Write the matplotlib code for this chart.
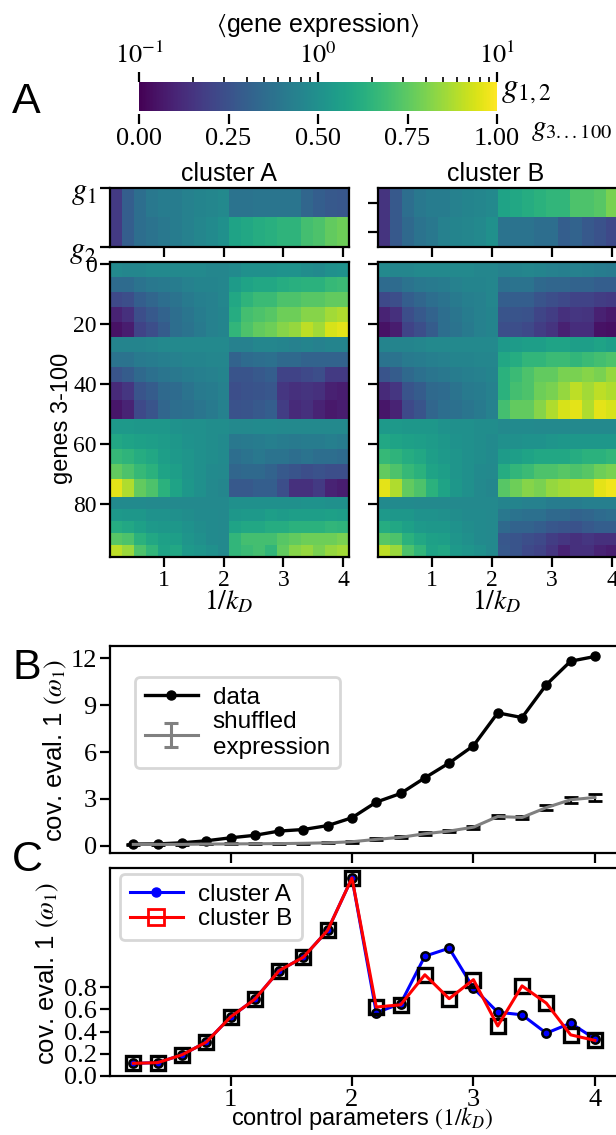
import numpy as np
import matplotlib
matplotlib.use("Agg")
import matplotlib.pyplot as plt
from matplotlib.cm import ScalarMappable
from matplotlib.colors import Normalize
from matplotlib.lines import Line2D

W, H = 616, 1135
plt.rcParams['font.family'] = ['Liberation Sans', 'DejaVu Sans']
plt.rcParams['mathtext.fontset'] = 'stix'
plt.rcParams['axes.linewidth'] = 1.6

kd_inv = [0.2, 0.4, 0.6, 0.8, 1.0, 1.2, 1.4, 1.6, 1.8, 2.0,
          2.2, 2.4, 2.6, 2.8, 3.0, 3.2, 3.4, 3.6, 3.8, 4.0]

# how many genes each row of the tables below stands for
band_rows = [5, 5, 5, 5, 5, 5, 5, 5, 6, 6, 5, 5, 5, 5, 6, 4, 4, 4, 4, 4]

# columns 0.2-2.0, both clusters look the same here
left_bands = [
    [.47, .46, .46, .47, .47, .47, .47, .47, .46, .46],
    [.35, .35, .38, .40, .41, .42, .44, .45, .45, .46],
    [.22, .24, .30, .33, .36, .38, .41, .43, .44, .46],
    [.10, .14, .24, .28, .32, .36, .39, .42, .44, .45],
    [.05, .08, .20, .24, .29, .36, .38, .41, .44, .45],
    [.45, .45, .45, .46, .47, .47, .47, .47, .47, .47],
    [.38, .38, .41, .42, .43, .44, .45, .45, .46, .46],
    [.26, .29, .34, .37, .39, .40, .42, .43, .44, .45],
    [.12, .16, .26, .29, .34, .35, .38, .41, .42, .44],
    [.06, .10, .22, .26, .33, .36, .37, .39, .41, .44],
    [.54, .54, .53, .53, .53, .51, .50, .50, .49, .49],
    [.60, .58, .57, .56, .55, .53, .51, .50, .49, .48],
    [.67, .65, .62, .60, .56, .54, .52, .50, .49, .48],
    [.76, .72, .67, .64, .58, .56, .52, .50, .48, .47],
    [.96, .88, .76, .72, .64, .58, .53, .50, .47, .46],
    [.48, .48, .48, .47, .47, .47, .47, .47, .47, .47],
    [.54, .53, .53, .51, .51, .50, .49, .48, .48, .47],
    [.62, .60, .57, .54, .53, .53, .51, .49, .48, .47],
    [.74, .72, .64, .60, .57, .56, .52, .50, .48, .47],
    [.90, .85, .72, .66, .58, .60, .54, .52, .50, .47],
]

# columns 2.2-4.0
right_bands_a = [
    [.48, .50, .50, .50, .51, .51, .49, .48, .50, .51],
    [.55, .58, .60, .60, .62, .63, .64, .64, .67, .68],
    [.60, .65, .68, .68, .72, .72, .74, .74, .76, .76],
    [.62, .70, .72, .74, .78, .78, .82, .82, .86, .88],
    [.66, .72, .76, .78, .82, .84, .90, .86, .94, .96],
    [.44, .44, .46, .46, .45, .44, .45, .44, .45, .45],
    [.32, .35, .36, .37, .34, .34, .32, .32, .32, .32],
    [.26, .26, .28, .30, .20, .20, .22, .24, .17, .17],
    [.24, .25, .26, .27, .16, .14, .15, .14, .09, .08],
    [.25, .26, .28, .30, .18, .12, .14, .10, .07, .08],
    [.47, .47, .48, .48, .47, .47, .47, .47, .47, .47],
    [.40, .41, .42, .43, .42, .41, .42, .42, .43, .42],
    [.36, .38, .40, .38, .38, .36, .38, .36, .36, .35],
    [.33, .34, .34, .32, .28, .26, .24, .25, .24, .24],
    [.28, .28, .30, .30, .24, .14, .14, .17, .10, .08],
    [.50, .50, .50, .50, .50, .50, .51, .51, .50, .50],
    [.53, .54, .54, .56, .55, .56, .56, .56, .57, .56],
    [.58, .60, .60, .62, .62, .64, .64, .64, .66, .65],
    [.66, .70, .70, .70, .74, .76, .78, .78, .78, .80],
    [.66, .68, .70, .66, .76, .82, .84, .80, .84, .86],
]

right_bands_b = [
    [.44, .45, .46, .45, .44, .43, .44, .43, .42, .41],
    [.37, .38, .38, .34, .33, .33, .32, .32, .30, .30],
    [.30, .30, .30, .26, .24, .22, .20, .20, .18, .17],
    [.26, .26, .25, .21, .18, .14, .16, .15, .09, .07],
    [.24, .24, .22, .18, .15, .09, .13, .13, .05, .04],
    [.54, .55, .56, .56, .58, .58, .56, .56, .58, .56],
    [.60, .62, .66, .66, .68, .68, .66, .68, .70, .72],
    [.64, .68, .72, .76, .76, .80, .80, .82, .80, .84],
    [.64, .70, .72, .78, .80, .84, .90, .86, .90, .88],
    [.70, .76, .76, .82, .88, .94, .96, .88, .96, .94],
    [.47, .48, .48, .47, .47, .47, .47, .47, .47, .47],
    [.50, .50, .51, .51, .52, .53, .53, .53, .53, .53],
    [.55, .56, .58, .60, .60, .60, .62, .64, .64, .66],
    [.62, .66, .68, .72, .72, .74, .72, .74, .78, .80],
    [.74, .78, .82, .80, .84, .86, .88, .88, .96, .98],
    [.45, .45, .44, .44, .42, .42, .42, .43, .43, .43],
    [.40, .38, .37, .37, .34, .34, .32, .33, .35, .36],
    [.34, .32, .32, .30, .27, .26, .25, .28, .30, .30],
    [.27, .26, .24, .22, .18, .16, .14, .16, .14, .14],
    [.28, .26, .22, .20, .16, .10, .14, .14, .10, .08],
]

g12_a = [[.17, .30, .36, .40, .42, .42, .44, .45, .46, .47, .38, .38, .39, .39, .39, .39, .33, .30, .28, .27],
         [.17, .30, .36, .38, .40, .42, .44, .46, .48, .50, .58, .60, .62, .63, .65, .65, .70, .72, .76, .78]]
g12_b = [[.15, .28, .36, .40, .42, .42, .44, .45, .46, .47, .58, .60, .62, .64, .66, .66, .72, .72, .74, .80],
         [.15, .28, .34, .38, .40, .44, .45, .46, .47, .50, .38, .38, .38, .36, .36, .30, .32, .28, .25, .22]]

eval_data = [.12, .13, .2, .33, .52, .68, .95, 1.05, 1.3, 1.8,
             2.8, 3.35, 4.35, 5.3, 6.4, 8.5, 8.2, 10.3, 11.8, 12.1]
eval_shuffled = [.1, .1, .1, .12, .13, .14, .15, .17, .2, .27,
                 .42, .55, .78, .95, 1.2, 1.88, 1.82, 2.45, 2.95, 3.1]
eval_shuffled_err = [.02, .02, .02, .02, .03, .03, .03, .03, .04, .05,
                     .06, .07, .08, .09, .1, .12, .12, .14, .18, .22]

cluster_a = [.114, .12, .19, .304, .53, .69, .947, 1.068, 1.31, 1.78,
             .57, .65, 1.077, 1.149, .79, .574, .55, .385, .475, .334]
cluster_b = [.114, .12, .19, .304, .53, .69, .947, 1.068, 1.31, 1.78,
             .62, .64, .91, .695, .866, .45, .81, .655, .37, .32]

SERIF = 'Liberation Serif'


def px_axes(l, t, r, b):
    return fig.add_axes([l / W, 1 - b / H, (r - l) / W, (b - t) / H])


def px_text(x, y, s, **kw):
    kw.setdefault('ha', 'center')
    kw.setdefault('va', 'center')
    return fig.text(x / W, 1 - y / H, s, **kw)


def style_ticks(ax, size=16):
    ax.tick_params(axis='both', which='major', length=7.5, width=1.6,
                   labelsize=size, pad=2)
    for lab in ax.get_xticklabels() + ax.get_yticklabels():
        lab.set_fontfamily(SERIF)


def expand(left, right):
    table = np.hstack([np.array(left), np.array(right)])
    return np.repeat(table, band_rows, axis=0)


fig = plt.figure(figsize=(W / 100, H / 100), dpi=100)

# colorbar with the two scales
cax = px_axes(139, 82, 497, 111)
cb = fig.colorbar(ScalarMappable(Normalize(0, 1), 'viridis'), cax=cax, orientation='horizontal')
cb.outline.set_visible(False)
cb.set_ticks([0, .25, .5, .75, 1])
cb.set_ticklabels(['0.00', '0.25', '0.50', '0.75', '1.00'])
cax.spines['bottom'].set_position(('outward', 2.5))
style_ticks(cax, 19)
cax.tick_params(axis='x', length=7.5, width=1.6, pad=2)
top = cax.twiny()
top.set_xscale('log')
top.set_xlim(0.1, 10)
for s in top.spines.values():
    s.set_visible(False)
top.set_xticks([.1, 1, 10])
top.set_xticklabels(['$10^{-1}$', '$10^{0}$', '$10^{1}$'])
top.tick_params(axis='x', which='major', length=7, width=1.6, labelsize=19, pad=3)
top.tick_params(axis='x', which='minor', length=3.5, width=1.2, labelbottom=False, labeltop=False)

px_text(526, 90, '$g_{1,2}$', fontsize=24)
px_text(572, 129, '$g_{3...100}$', fontsize=21)
px_text(318, 25, r'$\langle$gene expression$\rangle$', fontsize=18)

extent_top = [0.1, 4.1, 1.5, -0.5]
extent_main = [0.1, 4.1, 97.5, -0.5]
x_ticks = [1, 2, 3, 4]

lefts = [(110, 349), (378, 618)]
tables = [(g12_a, right_bands_a, 'cluster A'), (g12_b, right_bands_b, 'cluster B')]
for (l, r), (g12, right, name) in zip(lefts, tables):
    at = px_axes(l, 188, r, 247)
    at.imshow(np.array(g12), cmap='viridis', vmin=0, vmax=1, aspect='auto',
              interpolation='nearest', extent=extent_top)
    at.set_xticks(x_ticks)
    at.set_xticklabels([])
    px_text(229 if r < 400 else 496, 174, name, fontsize=18)
    am = px_axes(l, 262, r, 557)
    am.imshow(expand(left_bands, right), cmap='viridis', vmin=0, vmax=1, aspect='auto',
              interpolation='nearest', extent=extent_main)
    am.set_xticks(x_ticks)
    am.set_yticks([0, 20, 40, 60, 80])
    if name == 'cluster A':
        at.set_yticks([-0.5, 1.5])
        at.set_yticklabels(['$g_1$', '$g_2$'])
        px_text(62, 418, 'genes 3-100', rotation=90, fontsize=17)
        style_ticks(am, 17)
        at.tick_params(axis='both', length=7.5, width=1.6, pad=2, labelsize=22)
    else:
        at.set_yticks([0, 1])
        at.set_yticklabels([])
        am.set_yticklabels([])
        style_ticks(am, 17)
        at.tick_params(axis='both', length=7.5, width=1.6)
    px_text(229 if r < 400 else 497, 602, '$1/k_D$', fontsize=20)

# panel B
ab = px_axes(110, 646, 618, 853)
ab.plot(kd_inv, eval_data, '-o', color='k', lw=2.4, ms=6.5)
ab.errorbar(kd_inv, eval_shuffled, yerr=eval_shuffled_err, color='gray', lw=2.2,
            ecolor='k', elinewidth=1.5, capsize=5, capthick=2, zorder=3)
# off-view point, only gives the legend its gray handle
h_shuf = ab.errorbar([-5], [0], yerr=[1], color='gray', lw=2.2, elinewidth=2.2,
                     capsize=5, capthick=2.2)
ab.set_xlim(0.008, 4.19)
ab.set_ylim(-0.45, 12.77)
ab.set_xticks(x_ticks)
ab.set_xticklabels([])
ab.set_yticks([0, 3, 6, 9, 12])
style_ticks(ab, 19)
px_text(55, 750, r'cov. eval. 1 $(\omega_1)$', rotation=90, fontsize=18.5)

h_data = Line2D([], [], color='k', lw=2.4, marker='o', ms=6.5)
leg = ab.legend([h_data, h_shuf], ['data', 'shuffled\nexpression'], fontsize=17.5,
                loc='upper left', bbox_to_anchor=(25 / 508, 1 - 31 / 207),
                borderaxespad=0, labelspacing=0.1, handlelength=2.2, handletextpad=0.6,
                edgecolor='lightgray', framealpha=0.9)
leg.get_frame().set_linewidth(2)

# panel C
ac = px_axes(110, 868, 618, 1076)
ac.plot(kd_inv, cluster_a, '-', color='b', lw=2.2, zorder=2)
ac.plot(kd_inv, cluster_a, 'o', mfc='b', mec='k', mew=1.8, ms=6, zorder=2.5)
ac.plot(kd_inv, cluster_b, 's', mfc='none', mec='k', mew=2.4, ms=10.5, zorder=3)
ac.plot(kd_inv, cluster_b, '-', color='r', lw=2.2, zorder=4)
ac.set_xlim(0.008, 4.19)
ac.set_ylim(0, 1.87)
ac.set_xticks(x_ticks)
ac.set_yticks([0, .2, .4, .6, .8])
ac.set_yticklabels(['0.0', '0.2', '0.4', '0.6', '0.8'])
style_ticks(ac, 19)
ac.tick_params(axis='x', pad=2)
px_text(47, 973, r'cov. eval. 1 $(\omega_1)$', rotation=90, fontsize=18.5)
px_text(362, 1118, r'control parameters $(1/k_D)$', fontsize=17)

h_a = Line2D([], [], color='b', lw=2.2, marker='o', ms=6.5)
h_b = Line2D([], [], color='r', lw=2.2, marker='s', ms=12, mfc='none', mew=2)
leg = ac.legend([h_a, h_b], ['cluster A', 'cluster B'], fontsize=17.5, loc='upper left',
                bbox_to_anchor=(10 / 508, 1 - 6 / 208), borderaxespad=0, labelspacing=0.1,
                handlelength=2.2, handletextpad=0.6, edgecolor='lightgray', framealpha=0.9)
leg.get_frame().set_linewidth(2)

for x, y, lab in [(26, 102, 'A'), (27, 668, 'B'), (27, 860, 'C')]:
    px_text(x, y, lab, fontsize=31)

fig.savefig('out.png', dpi=100)
